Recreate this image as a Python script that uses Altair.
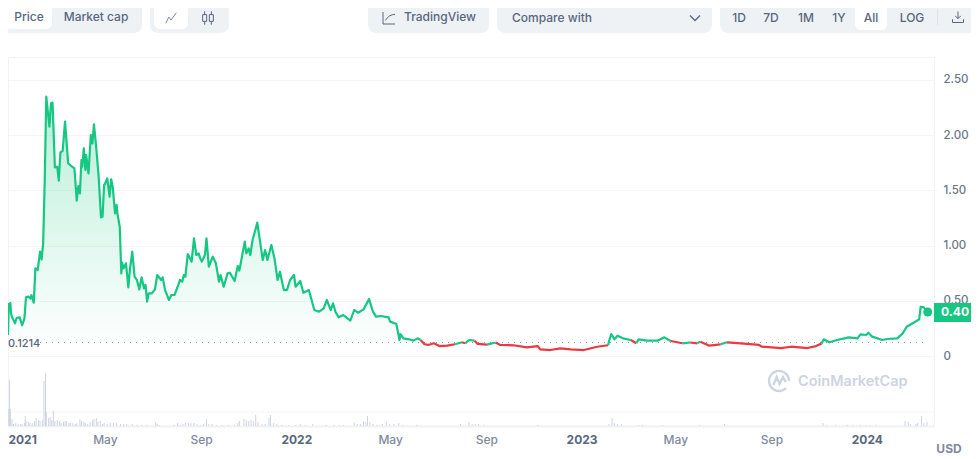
import altair as alt
import pandas as pd

# days since 2021-01-01 and price in USD
price_days = [-4,-3,-2,-1,0,1,5,7,11,14,17,19,22,25,26,29,31,34,37,39,41,43,45,49,51,53,56,59,61,63,66,69,73,78,81,84,86,88,90,91,93,95,96,99,102,104,106,109,112,115,117,119,120,123,126,128,130,133,135,136,139,141,142,144,147,150,152,155,158,161,164,167,170,172,174,176,180,184,187,192,194,197,202,205,209,214,216,219,221,223,226,231,234,237,240,242,
              244,248,250,253,258,262,266,268,272,277,280,286,290,292,299,301,304,306,309,315,318,322,325,328,333,337,341,344,349,353,357,362,364,370,374,381,388,394,400,404,409,412,415,419,425,434,439,444,451,458,463,467,473,483,485,493,497,
              498,502,509,515,520,524,529,534,541,548,558,568,577,581,586,593,597,609,620,626,643,660,674,677,690,703,716,733,750,764,765,768,772,776,783,793,800,803,814,827,836,844,859,869,878,
              882,893,908,916,934,957,961,985,998,1019,1030,1037,1040,1047,1057,1072,1083,1087,1094,1097,1102,1115,1121,1134,1141,1146,1156,1162,1164,1168,1173]
price_vals = [.19,.47,.44,.48,.38,.356,.296,.344,.35,.278,.338,.531,.537,.519,.552,.483,.793,.778,.944,.875,1.02,1.593,2.347,2.075,2.287,2.293,1.707,1.713,1.587,1.84,1.858,2.121,1.744,1.713,1.698,1.406,1.538,1.472,1.774,1.713,1.879,1.683,1.819,1.653,2.0,1.925,2.097,1.879,1.623,1.255,1.261,1.548,1.557,1.608,1.442,1.599,1.532,1.291,1.367,1.291,1.17,.748,.845,.793,.839,.621,.784,.944,.718,.688,.603,.712,.612,.643,.492,.567,.567,.603,.733,.688,.712,.597,.507,.552,.552,.643,.688,.673,.733,.718,.923,.854,1.065,.914,.929,.884,
              .854,.914,1.065,.808,.899,.839,.673,.733,.627,.748,.754,.679,.814,.772,1.035,.929,.974,.914,1.05,1.207,1.065,.869,.959,.869,1.005,.884,.688,.763,.597,.597,.688,.733,.627,.679,.573,.597,.416,.401,.431,.507,.416,.477,.401,.35,.371,.32,.416,.392,.422,.516,.401,.356,.362,.35,.311,.29,.145,
              .199,.16,.151,.139,.16,.145,.106,.1,.115,.09,.094,.106,.124,.115,.145,.139,.109,.103,.122,.1,.097,.078,.09,.06,.054,.069,.06,.054,.084,.097,.13,.199,.151,.184,.16,.145,.115,.151,.139,.139,.169,.136,.115,.122,.115,
              .13,.094,.106,.124,.115,.1,.084,.072,.084,.072,.09,.112,.151,.124,.145,.169,.16,.196,.19,.211,.175,.145,.154,.16,.205,.265,.305,.332,.446,.44,.395]

# volume bars, in arbitrary units
vol_days = [-3,-2,-1,1,3,6,9,12,14,17,18,19,22,24,27,30,32,35,37,40,42,44,45,48,50,52,54,56,59,62,64,67,69,71,74,76,79,82,84,88,90,93,95,98,101,104,106,109,111,114,117,119,123,127,131,135,140,144,148,155,161,167,174,185,187,190,208,213,216,220,223,227,230,234,238,242,246,250,253,257,263,270,278,286,290,292,298,301,304,307,310,313,316,321,325,330,332,336,340,347,355,364,
            370,376,386,403,413,420,425,439,443,447,451,454,456,459,463,468,475,480,484,490,496,501,519,575,586,590,594,598,605,674,765,769,772,776,781,803,808,834,881,913,1039,1044,1055,1070,1077,1087,1094,1098,1107,1144,1148,1151,1158,1160,1165,1168,1172]
vol_vals = [17,46,17,7,2,3,2,2,2,3,10,5,4,3,3,5,8,6,5,6,45,53,14,8,9,6,15,5,6,5,3,4,5,5,3,3,3,2,3,7,5,4,3,2,4,6,7,8,4,5,2,3,2,3,3,3,2,2,2,2,1,1,1,4,2,1,1,3,1,2,3,3,3,3,2,1,2,7,2,2,1,1,1,1,3,5,7,6,5,6,5,11,4,2,2,8,11,3,2,1,1,1,
            2,1,2,1,1,1,1,4,2,2,5,4,10,4,2,1,2,5,2,2,3,1,1,2,4,2,2,2,1,1,2,8,3,2,2,1,1,1,1,2,3,1,1,1,1,1,1,1,1,5,4,2,2,3,10,3,4]
vol_grid = [14]

BASELINE = 0.1214
LAST_PRICE = 0.398
y_ticks = [0, 0.5, 1, 1.5, 2, 2.5]

T0 = pd.Timestamp("2021-01-01")
def to_time(d):
    return (T0 + pd.Timedelta(days=d)).strftime("%Y-%m-%dT00:00:00")

rows, seg, side = [], 0, None
prev = None
for d, p in zip(price_days, price_vals):
    s = "up" if p >= BASELINE else "down"
    if side is not None and s != side:
        seg += 1
        rows.append(dict(t=prev[0], price=prev[1], seg=seg, side=s, base=BASELINE))
    rows.append(dict(t=to_time(d), price=p, seg=seg, side=s, base=BASELINE))
    side, prev = s, (to_time(d), p)
line_df = pd.DataFrame(rows)
area_df = pd.DataFrame(dict(t=[to_time(d) for d in price_days], price=price_vals, base=BASELINE))
vol_df = pd.DataFrame(dict(t=[to_time(d) for d in vol_days], vol=vol_vals))
last_df = pd.DataFrame(dict(t=[to_time(price_days[-1])], price=[LAST_PRICE]))
base_df = pd.DataFrame(dict(base=[BASELINE]))
grid_df = pd.DataFrame(dict(vol=vol_grid))

FONT = "Inter"
GREEN, RED = "#16c784", "#ea3943"
GRAY, DARK = "#808a9d", "#58667e"
PANEL = "#eff2f5"
OX, OY = 8, 57   # page position of the plot area

xaxis = alt.Axis(
    values=[alt.DateTime(year=y, month=m, date=1) for y, m in
            [(2021,1),(2021,5),(2021,9),(2022,1),(2022,5),(2022,9),(2023,1),(2023,5),(2023,9),(2024,1)]],
    labelExpr="month(datum.value)===0 ? timeFormat(datum.value,'%Y') : timeFormat(datum.value,'%b')",
    labelFontWeight={"expr": "month(datum.value)===0 ? 700 : 500"},
    labelColor={"expr": "month(datum.value)===0 ? '#58667e' : '#808a9d'"},
    labelOffset={"expr": "year(datum.value)===2021 && month(datum.value)===0 ? 11 : 0"},
    labelFont=FONT, labelFontSize=12, labelPadding=8, labelOverlap=False, labelBound=False,
    ticks=False, grid=False, domainColor=PANEL, domainWidth=2, title=None,
)
xscale = alt.Scale(domain=[alt.DateTime(year=2020, month=12, date=28), alt.DateTime(year=2024, month=3, date=27)], padding=0)
X = alt.X("t:T", scale=xscale, axis=xaxis)
yscale = alt.Scale(domain=[-0.6335, 2.706], nice=False, zero=False)
volscale = alt.Scale(domain=[0, 369], nice=False, zero=False)

yaxis = alt.Axis(values=y_ticks, orient="right", labelExpr="datum.value===0 ? '0' : format(datum.value,'.2f')",
                 labelFont=FONT, labelFontSize=11.5, labelFontWeight=500, labelColor="#6b7689", labelPadding=9, ticks=False,
                 domain=False, grid=True, gridColor="#f4f5f7", gridWidth=1, title=None, labelAlign="left")

gradient = alt.Gradient(gradient="linear", x1=0, x2=0, y1=0, y2=1, stops=[
    alt.GradientStop(color="rgba(22,199,132,0.30)", offset=0),
    alt.GradientStop(color="rgba(22,199,132,0.0)", offset=1)])

area = alt.Chart(area_df).mark_area(color=gradient).encode(
    x=X, y=alt.Y("price:Q", scale=yscale, axis=yaxis), y2="base:Q")
vol_rule = alt.Chart(grid_df).mark_rule(color="#f4f5f7", strokeWidth=1).encode(
    y=alt.Y("vol:Q", scale=volscale, axis=None))
bars = alt.Chart(vol_df).mark_bar(color="#cdd4e2", width=1).encode(
    x=X, y=alt.Y("vol:Q", scale=volscale, axis=None))
dots = alt.Chart(base_df).mark_rule(color="#8a93a5", strokeWidth=1, strokeDash=[1, 5]).encode(
    x=alt.value(40 - OX), x2=alt.value(927 - OX), y=alt.Y("base:Q", scale=yscale, axis=None))
line = alt.Chart(line_df).mark_line(strokeWidth=2.2, strokeJoin="round").encode(
    x=X, y=alt.Y("price:Q", scale=yscale, axis=None), detail="seg:N", order="index:Q",
    color=alt.Color("side:N", scale=alt.Scale(domain=["up", "down"], range=[GREEN, RED]), legend=None))
dot = alt.Chart(last_df).mark_circle(color=GREEN, size=80, opacity=1).encode(
    x=X, y=alt.Y("price:Q", scale=yscale, axis=None))

def box(x0, y0, x1, y1, color, r=0):
    return alt.Chart().mark_rect(color=color, cornerRadius=r).encode(
        x=alt.value(x0 - OX), x2=alt.value(x1 - OX), y=alt.value(y0 - OY), y2=alt.value(y1 - OY))

def label(s, x, y, size=12, weight=500, color=DARK, align="center"):
    return alt.Chart().mark_text(text=s, font=FONT, fontSize=size, fontWeight=weight, color=color,
                                 align=align, baseline="middle").encode(
        x=alt.value(x - OX), y=alt.value(y - OY))

def icon(path, x, y, size, color=DARK, width=1):
    return alt.Chart().mark_point(shape=path, size=size, stroke=color, strokeWidth=width, filled=False, opacity=1).encode(
        x=alt.value(x - OX), y=alt.value(y - OY))

chrome = [
    box(1, 1, 142, 33, PANEL, 8), box(5, 5, 52, 29, "#ffffff", 6),
    label("Price", 29, 17), label("Market cap", 96, 17),
    box(150, 1, 229, 33, PANEL, 8), box(154, 5, 188, 29, "#ffffff", 6),
    icon("M-1 1 L-0.4 -0.2 L0 0.4 L1 -1", 171, 18, 110, GRAY),
    icon("M-0.8 -0.5 H-0.2 V0.5 H-0.8 Z M-0.5 -1 V-0.5 M-0.5 0.5 V1 M0.2 -0.5 H0.8 V0.5 H0.2 Z M0.5 -1 V-0.5 M0.5 0.5 V1", 208, 18, 180, DARK),
    box(368, 1, 489, 33, PANEL, 8),
    icon("M-1 -1 V1 H1 M-0.6 0.4 Q0 -0.6 1 -0.6", 389, 18, 144, DARK),
    label("TradingView", 440, 17),
    box(497, 1, 712, 33, PANEL, 8),
    label("Compare with", 512, 18, align="left"),
    icon("M-1 -0.5 L0 0.5 L1 -0.5", 695, 18, 100, DARK, 1.3),
    box(720, 1, 976, 33, PANEL, 8), box(855, 4, 887, 30, "#ffffff", 6),
    label("1D", 739, 18), label("7D", 771, 18), label("1M", 806, 18), label("1Y", 839, 18),
    label("All", 871, 18), label("LOG", 912, 18),
    box(937, 9, 938, 25, "#dfe3ea"),
    icon("M0 -1 V0.3 M-0.5 -0.2 L0 0.3 L0.5 -0.2 M-1 0.4 V1 H1 V0.4", 958, 17, 120, DARK),
]

overlay = [
    box(934, 303, 976, 322, GREEN),
    label("0.40", 955, 312, size=12, weight=700, color="#ffffff"),
    label("0.1214", 8, 343.5, size=11, weight=500, color=DARK, align="left"),
    label("USD", 949, 449, size=12, weight=700, color=GRAY),
    icon("M0.62 0.62 A0.88 0.88 0 1 1 0.88 0 M-0.5 0.35 L-0.2 -0.35 L0.05 0.25 L0.35 -0.35 L0.6 0.1", 779, 381, 520, "#cdd4e2", 2.4),
    label("CoinMarketCap", 798, 382, size=14.5, weight=600, color="#cdd4e2", align="left"),
]

chart = alt.layer(area, vol_rule, bars, dots, line, dot, *chrome, *overlay).resolve_scale(y="independent").properties(
    width=926, height=369,
    autosize=alt.AutoSizeParams(type="none"),
    padding={"left": 0, "top": OY - 8, "right": 37, "bottom": 33},
    background="#ffffff",
).configure_view(stroke="#f1f2f5", strokeWidth=1)

chart.save("out.html", embed_options={"renderer": "svg", "actions": False})
